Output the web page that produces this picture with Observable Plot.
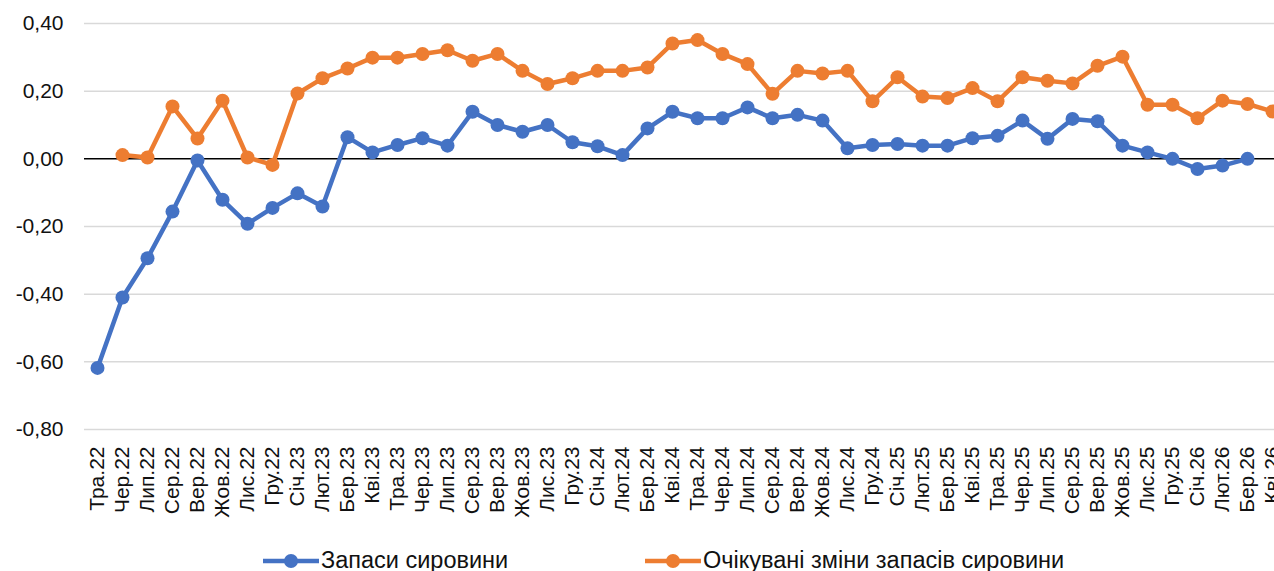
<!DOCTYPE html>
<html>
<head>
<meta charset="utf-8">
<script src="https://cdn.jsdelivr.net/npm/d3@7"></script>
<script src="https://cdn.jsdelivr.net/npm/@observablehq/plot@0.6"></script>
<style>
  html, body { margin: 0; padding: 0; background: #fff; overflow: hidden; width: 1274px; height: 571px; }
  #chart svg { display: block; }
  #legend { position: relative; height: 31px; font-family: "Liberation Sans", Arial, sans-serif; font-size: 23.5px; color: #111; }
  .item { position: absolute; top: 5px; height: 31px; display: flex; align-items: center; white-space: nowrap; }
  .item svg { margin-right: 2px; }
</style>
</head>
<body>
<div id="chart"></div>
<div id="legend"></div>
<script>
const months = ["Тра.22","Чер.22","Лип.22","Сер.22","Вер.22","Жов.22","Лис.22","Гру.22",
  "Січ.23","Лют.23","Бер.23","Кві.23","Тра.23","Чер.23","Лип.23","Сер.23","Вер.23","Жов.23","Лис.23","Гру.23",
  "Січ.24","Лют.24","Бер.24","Кві.24","Тра.24","Чер.24","Лип.24","Сер.24","Вер.24","Жов.24","Лис.24","Гру.24",
  "Січ.25","Лют.25","Бер.25","Кві.25","Тра.25","Чер.25","Лип.25","Сер.25","Вер.25","Жов.25","Лис.25","Гру.25",
  "Січ.26","Лют.26","Бер.26","Кві.26"];

// Запаси сировини
const stocks = [-0.618,-0.410,-0.294,-0.156,-0.005,-0.121,-0.192,-0.145,
  -0.102,-0.141,0.064,0.019,0.041,0.061,0.039,0.139,0.100,0.080,0.100,0.049,
  0.037,0.011,0.090,0.139,0.120,0.120,0.152,0.120,0.130,0.113,0.031,0.041,
  0.044,0.039,0.039,0.061,0.068,0.113,0.059,0.118,0.111,0.039,0.019,0.000,
  -0.030,-0.020,0.000,null];

// Очікувані зміни запасів сировини
const expected = [null,0.011,0.004,0.155,0.060,0.172,0.004,-0.018,
  0.193,0.238,0.267,0.299,0.299,0.310,0.321,0.290,0.310,0.260,0.221,0.238,
  0.260,0.260,0.270,0.341,0.351,0.310,0.280,0.192,0.260,0.252,0.260,0.170,
  0.241,0.184,0.180,0.209,0.170,0.241,0.231,0.223,0.275,0.302,0.160,0.160,
  0.120,0.172,0.162,0.140];

const yTicks = [-0.8,-0.6,-0.4,-0.2,0,0.2,0.4];

const seriesNames = ["Запаси сировини", "Очікувані зміни запасів сировини"];
const colors = ["#4472C4", "#ED7D31"];

const rows = months.map((m, i) => ({month: m, stocks: stocks[i], expected: expected[i]}));
const fmt = d => (d < 0 ? "-" : "") + Math.abs(d).toFixed(2).replace(".", ",");
const font = '"Liberation Sans", Arial, sans-serif';

const W = 1274, H = 540, mL = 84;
const plot = Plot.plot({
  width: W,
  height: H,
  marginLeft: mL,
  marginRight: 0,
  marginTop: 23,
  marginBottom: 111,
  style: {fontFamily: font, fontSize: "21px", color: "#111", background: "#fff", overflow: "hidden"},
  x: {type: "point", domain: months, range: [mL, mL + 48 * 25], padding: 0.5},
  y: {domain: [-0.8, 0.4]},
  marks: [
    Plot.ruleY(yTicks.filter(d => d !== 0), {stroke: "#d9d9d9", strokeWidth: 1.5}),
    Plot.ruleY([0], {stroke: "#000", strokeWidth: 1.5}),
    Plot.axisY({ticks: yTicks, tickFormat: fmt, tickSize: 0, tickPadding: 21, label: null, fontSize: 21}),
    Plot.axisX({tickRotate: -90, tickSize: 0, tickPadding: 17, label: null, fontSize: 21}),
    Plot.lineY(rows.filter(d => d.stocks != null), {x: "month", y: "stocks", stroke: colors[0], strokeWidth: 4.5, strokeLinejoin: "round"}),
    Plot.dot(rows.filter(d => d.stocks != null), {x: "month", y: "stocks", r: 7, fill: colors[0], stroke: "none"}),
    Plot.lineY(rows.filter(d => d.expected != null), {x: "month", y: "expected", stroke: colors[1], strokeWidth: 4.5, strokeLinejoin: "round"}),
    Plot.dot(rows.filter(d => d.expected != null), {x: "month", y: "expected", r: 7, fill: colors[1], stroke: "none"})
  ]
});
document.getElementById("chart").appendChild(plot);

// legend
const legend = document.getElementById("legend");
const lefts = [263, 645];
seriesNames.forEach((name, i) => {
  const item = document.createElement("div");
  item.className = "item";
  item.style.left = lefts[i] + "px";
  const ns = "http://www.w3.org/2000/svg";
  const s = document.createElementNS(ns, "svg");
  s.setAttribute("width", 56); s.setAttribute("height", 20);
  const ln = document.createElementNS(ns, "line");
  ln.setAttribute("x1", 0); ln.setAttribute("x2", 56); ln.setAttribute("y1", 10); ln.setAttribute("y2", 10);
  ln.setAttribute("stroke", colors[i]); ln.setAttribute("stroke-width", 4.5); ln.setAttribute("stroke-linecap", "round");
  const c = document.createElementNS(ns, "circle");
  c.setAttribute("cx", 28); c.setAttribute("cy", 10); c.setAttribute("r", 7); c.setAttribute("fill", colors[i]);
  s.appendChild(ln); s.appendChild(c);
  const t = document.createElement("span");
  t.textContent = name;
  item.appendChild(s); item.appendChild(t);
  legend.appendChild(item);
});
</script>
</body>
</html>
